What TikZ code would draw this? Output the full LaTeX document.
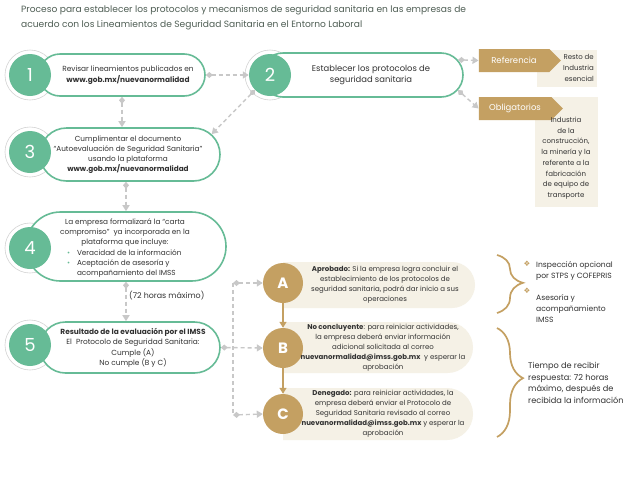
\documentclass[tikz,border=0pt]{standalone}
\usepackage{fontspec}
\setmainfont{Poppins}
\newfontfamily\symfont{DejaVu Sans}
\usetikzlibrary{arrows.meta,shapes.misc,shapes.symbols,decorations.pathreplacing}
\definecolor{verde}{RGB}{102,187,150}
\definecolor{oro}{RGB}{196,160,98}
\definecolor{crema}{RGB}{245,241,230}
\definecolor{gris}{RGB}{200,200,200}
\definecolor{titulo}{RGB}{80,95,85}
\definecolor{texto}{RGB}{50,50,50}
\tikzset{
	paso/.style={circle, fill=verde, minimum size=42pt, inner sep=0pt, text=white, font=\fontsize{18}{18}\selectfont},
	letra/.style={circle, fill=oro, minimum size=40pt, inner sep=0pt, text=white, font=\bfseries\fontsize{15}{15}\selectfont},
	caja/.style={rounded rectangle, draw=verde, line width=1.6pt, fill=white, inner sep=0pt},
	cajacrema/.style={rounded rectangle, rounded rectangle west arc=none, fill=crema, inner sep=0pt},
	etiqueta/.style={signal, signal to=east, signal pointer angle=90, fill=oro, text=white, inner sep=0pt, font=\fontsize{8.5}{9}\selectfont},
	txt/.style={align=center, text=texto, inner sep=0pt, font=\fontsize{7.3}{10}\selectfont},
	txtl/.style={align=left, text=texto, inner sep=0pt, font=\fontsize{7.6}{11}\selectfont},
	conn/.style={gris, line width=1.4pt, dash pattern=on 4pt off 3pt, {Diamond[length=7pt,width=6pt]}-{Triangle[length=6pt,width=7pt]}},
	flecha/.style={oro, line width=1.4pt, -{Triangle[length=6pt,width=7pt]}},
	llave/.style={oro, line width=1.7pt, decorate},
	estrella/.style={text=oro, inner sep=0pt, font=\symfont\fontsize{7.5}{7.5}\selectfont}
}
\begin{document}
\begin{tikzpicture}[x=1pt, y=-1pt]
	\useasboundingbox (0,0) rectangle (640,480);
	\fill[white] (0,0) rectangle (640,480);
	\node[anchor=north west, align=left, text=titulo, inner sep=0pt, font=\fontsize{9.1}{15}\selectfont] (tit) at (21,5.5) {Proceso para establecer los protocolos y mecanismos de seguridad sanitaria en las empresas de\\acuerdo con los Lineamientos de Seguridad Sanitaria en el Entorno Laboral};
	\foreach \x/\y in {30/75, 270/75, 30/152, 30/248, 30/345} {
		\draw[gris!80, line width=0.6pt] (\x,\y) circle (25);
	}
	\node[caja, minimum width=166pt, minimum height=42pt] (b1) at (122,75) {};
	\node[caja, minimum width=202pt, minimum height=44pt] (b2) at (362,75) {};
	\node[caja, minimum width=180pt, minimum height=53pt] (b3) at (130,154.5) {};
	\node[caja, minimum width=200pt, minimum height=69pt] (b4) at (126,246.5) {};
	\node[caja, minimum width=180pt, minimum height=51pt] (b5) at (130,347.5) {};
	\node[paso] (c1) at (30,75) {1};
	\node[paso] (c2) at (270,75) {2};
	\node[paso] (c3) at (30,152) {3};
	\node[paso] (c4) at (30,248) {4};
	\node[paso] (c5) at (30,345) {5};
	\node[txt, font=\fontsize{7.4}{11}\selectfont] (t1) at (128,75) {Revisar lineamientos publicados en\\\textbf{www.gob.mx/nuevanormalidad}};
	\node[txt, font=\fontsize{8.4}{11.5}\selectfont] (t2) at (371,75) {Establecer los protocolos de\\seguridad sanitaria};
	\node[txt] (t3) at (128,155) {Cumplimentar el documento\\“Autoevaluación de Seguridad Sanitaria”\\usando la plataforma\\\textbf{www.gob.mx/nuevanormalidad}};
	\node[txt, font=\fontsize{7.3}{10.3}\selectfont] (t4) at (125,248) {La empresa formalizará la “carta\\compromiso”\ \ ya incorporada en la\\plataforma que incluye:\\
		\makebox[116pt][l]{\makebox[10pt][l]{\textcolor{verde}{•}}Veracidad de la información}\\
		\makebox[116pt][l]{\makebox[10pt][l]{\textcolor{verde}{•}}Aceptación de asesoría y}\\
		\makebox[116pt][l]{\hspace{10pt}acompañamiento del IMSS}};
	\node[txt, font=\fontsize{7.4}{10.3}\selectfont] (t5) at (133,348) {\textbf{Resultado de la evaluación por el IMSS}\\El\ \ Protocolo de Seguridad Sanitaria:\\Cumple (A)\\No cumple (B y C)};
	\node[txt, anchor=west, font=\fontsize{7.9}{9}\selectfont] (t72) at (129,296) {(72 horas máximo)};
	\draw[conn] (b1.east) -- (c2.west);
	\draw[conn] (b1.south) -- (b1.south |- b3.north);
	\draw[conn] (c2.225) -- (b3.14);
	\draw[conn] (b4.north |- b3.south) -- (b4.north);
	\draw[conn] (b4.south) -- (b4.south |- b5.north);
	\node[fill=crema, minimum width=60pt, minimum height=37pt, inner sep=0pt] (fref) at (567,68.5) {};
	\node[fill=crema, minimum width=63pt, minimum height=110pt, inner sep=0pt] (fobl) at (566.5,152) {};
	\node[etiqueta, minimum width=82pt, minimum height=23pt] (tref) at (514,60.5) {Referencia};
	\node[etiqueta, minimum width=84pt, minimum height=23pt] (tobl) at (515,108.5) {Obligatorios};
	\node[txt, anchor=east, align=right, font=\fontsize{7}{10.8}\selectfont] (rref) at (594,68) {Resto de\\Industria\\esencial};
	\node[txt, anchor=north, font=\fontsize{7}{10.7}\selectfont] (robl) at (566,117) {Industria\\de la\\construcción,\\la minería y la\\referente a la\\fabricación\\de equipo de\\transporte};
	\draw[conn] (b2.9) -- (tref.west);
	\draw[conn] (b2.-9) -- (tobl.west);
	\node[cajacrema, minimum width=192pt, minimum height=46pt] (ba) at (379,285) {};
	\node[cajacrema, minimum width=190pt, minimum height=51pt] (bb) at (378,347.5) {};
	\node[cajacrema, minimum width=190pt, minimum height=52pt] (bc) at (378,414) {};
	\node[letra] (ca) at (283,283) {A};
	\node[letra] (cb) at (283,348) {B};
	\node[letra] (cc) at (283,414) {C};
	\draw[flecha] (ca) -- (cb);
	\draw[flecha] (cb) -- (cc);
	\node[txt, font=\fontsize{7}{10}\selectfont] (ta) at (385,285) {\textbf{Aprobado:} Si la empresa logra concluir el\\establecimiento de los protocolos de\\seguridad sanitaria, podrá dar inicio a sus\\operaciones};
	\node[txt, font=\fontsize{7}{10}\selectfont] (tb) at (383,348) {\textbf{No concluyente}: para reiniciar actividades,\\la empresa deberá enviar información\\adicional solicitada al correo\\\textbf{nuevanormalidad@imss.gob.mx}\ \ y esperar la\\aprobación};
	\node[txt, font=\fontsize{7}{10}\selectfont] (tc) at (383,414) {\textbf{Denegado:} para reiniciar actividades, la\\empresa deberá enviar el Protocolo de\\Seguridad Sanitaria revisado al correo\\\textbf{nuevanormalidad@imss.gob.mx} y esperar la\\aprobación};
	\coordinate (spa) at (233,283);
	\coordinate (spc) at (233,415);
	\draw[gris, line width=1.4pt, dash pattern=on 4pt off 3pt] (spa) -- (spc);
	\draw[conn] (spa) -- (ca.west);
	\draw[conn] (b5.east) -- (cb.west);
	\draw[conn] (spc) -- (cc.west);
	\draw[llave, decoration={brace, amplitude=26pt, aspect=0.48}] (497,255) -- (497,313);
	\draw[llave, decoration={brace, amplitude=26pt, aspect=0.46}] (497,328) -- (497,437);
	\node[estrella] (s1) at (527,264) {❖};
	\node[estrella] (s2) at (527,291) {❖};
	\node[txtl] (i1) at (536,271) [anchor=west] {Inspección opcional\\por STPS y COFEPRIS};
	\node[txtl] (i2) at (536,309) [anchor=west] {Asesoría y\\acompañamiento\\IMSS};
	\node[txtl, anchor=west, font=\fontsize{8.2}{11.8}\selectfont] (tr) at (528,383) {Tiempo de recibir\\respuesta: 72 horas\\máximo, después de\\recibida la información};
\end{tikzpicture}
\end{document}
